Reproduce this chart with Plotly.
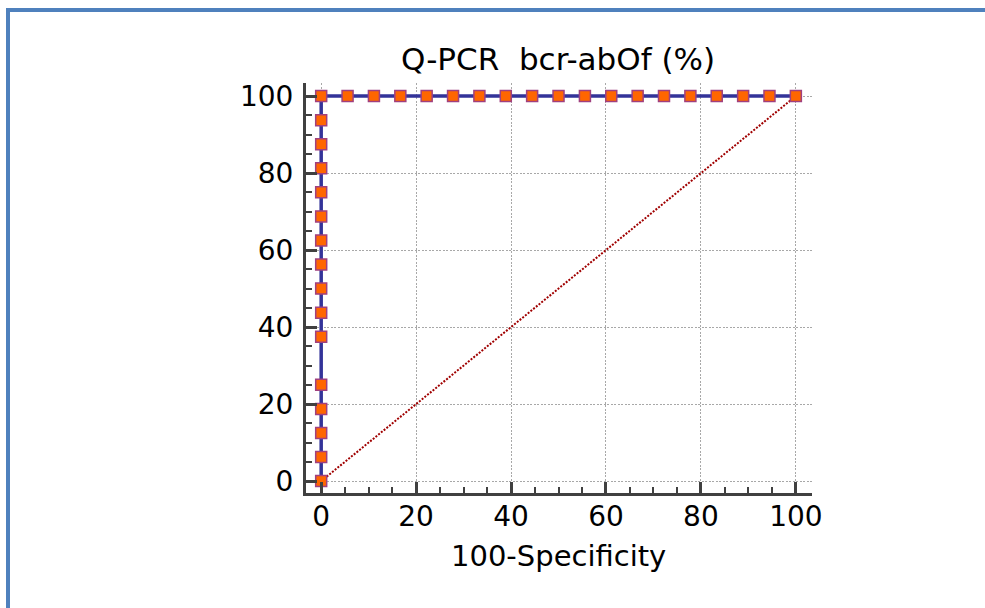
import plotly.graph_objects as go

# ---- data ----
# ROC points: first along x = 0 (sensitivity rises), then along y = 100
fpr_left = [0, 0, 0, 0, 0, 0, 0, 0, 0, 0, 0, 0, 0, 0, 0, 0]
tpr_left = [0, 6.25, 12.5, 18.75, 25, 37.5, 43.75, 50, 56.25, 62.5,
            68.75, 75, 81.25, 87.5, 93.75, 100]
fpr_top = [5.56, 11.11, 16.67, 22.22, 27.78, 33.33, 38.89, 44.44, 50,
           55.56, 61.11, 66.67, 72.22, 77.78, 83.33, 88.89, 94.44, 100]
tpr_top = [100] * len(fpr_top)
diag_x = [0, 100]
diag_y = [0, 100]
tick_vals = [0, 20, 40, 60, 80, 100]

title_text = "Q-PCR  bcr-abOf (%)"
x_title = "100-Specificity"

# ---- layout geometry ----
W, H = 985, 608
L, R, T, B = 306, 812, 83, 493   # plot area in pixels
FONT = "DejaVu Sans"


def px_x(p):
    return (p - L) / (R - L)


def px_y(p):
    return (B - p) / (B - T)


fig = go.Figure()

fig.add_trace(go.Scatter(
    x=diag_x, y=diag_y, mode="lines",
    line=dict(color="#A00000", width=2, dash="2px,1.5px"),
    hoverinfo="skip", showlegend=False))

fig.add_trace(go.Scatter(
    x=fpr_left + fpr_top, y=tpr_left + tpr_top, mode="lines+markers",
    line=dict(color="#333399", width=3.5),
    marker=dict(symbol="square", size=11, color="#FF6600",
                line=dict(color="#A0407F", width=1.5)),
    showlegend=False))

axis_common = dict(
    tickmode="array", tickvals=tick_vals,
    showline=True, linecolor="#404040", linewidth=3,
    ticks="inside", ticklen=11, tickwidth=3, tickcolor="#404040",
    showgrid=True, gridcolor="#A8A8A8", gridwidth=1, griddash="2px,1.5px",
    zeroline=False, mirror=False,
    tickfont=dict(family=FONT, size=28, color="#000000"),
    minor=dict(ticks="inside", ticklen=6, tickwidth=2, tickcolor="#404040",
               dtick=5, tick0=0, showgrid=False),
)

fig.update_xaxes(range=[-3.2, 103.4], ticklabelstandoff=-4, **axis_common)
fig.update_yaxes(range=[-3.1, 103.4], ticklabelstandoff=4, **axis_common)

fig.update_layout(
    width=W, height=H,
    margin=dict(l=L, r=W - R, t=T, b=H - B, pad=0),
    paper_bgcolor="white", plot_bgcolor="white",
    title=dict(text=title_text, x=px_x(558), xref="paper", xanchor="center",
               y=1 - 59 / H, yref="container", yanchor="middle",
               font=dict(family=FONT, size=31, color="#000000")),
    annotations=[dict(text=x_title, xref="paper", yref="paper",
                      x=px_x(558), y=px_y(556), xanchor="center",
                      yanchor="middle", showarrow=False,
                      font=dict(family=FONT, size=29, color="#000000"))],
    shapes=[
        dict(type="line", xref="paper", yref="paper",
             x0=px_x(8), x1=px_x(8), y0=px_y(8), y1=px_y(620),
             line=dict(color="#4F81BD", width=4)),
        dict(type="line", xref="paper", yref="paper",
             x0=px_x(6), x1=px_x(1000), y0=px_y(10), y1=px_y(10),
             line=dict(color="#4F81BD", width=4)),
    ],
)

fig.write_html("out.html", config={"displayModeBar": False},
               post_script="document.body.style.margin='0px';")
